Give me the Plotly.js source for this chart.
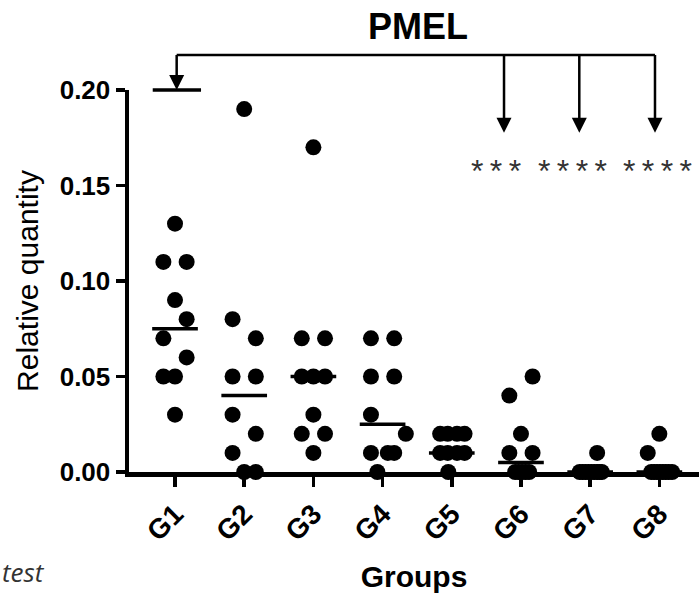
<!DOCTYPE html>
<html>
<head>
<meta charset="utf-8">
<script src="https://cdn.plot.ly/plotly-3.0.1.min.js"></script>
<style>html,body{margin:0;padding:0;background:#fff}</style>
</head>
<body>
<div id="chart" style="width:699px;height:593px"></div>
<script>
// Relative PMEL quantity per group, one value per sample
const groups = ['G1', 'G2', 'G3', 'G4', 'G5', 'G6', 'G7', 'G8'];
const g1 = [0.13, 0.11, 0.11, 0.09, 0.08, 0.07, 0.06, 0.05, 0.05, 0.03];
const g2 = [0.19, 0.08, 0.07, 0.05, 0.05, 0.03, 0.02, 0.01, 0, 0];
const g3 = [0.17, 0.07, 0.07, 0.05, 0.05, 0.05, 0.03, 0.02, 0.02, 0.01];
const g4 = [0.07, 0.07, 0.05, 0.05, 0.03, 0.02, 0.01, 0.01, 0.01, 0];
const g5 = [0.02, 0.02, 0.02, 0.02, 0.01, 0.01, 0.01, 0.01, 0];
const g6 = [0.05, 0.04, 0.02, 0.01, 0.01, 0, 0, 0, 0, 0];
const g7 = [0.01, 0, 0, 0, 0, 0, 0, 0, 0, 0];
const g8 = [0.02, 0.01, 0, 0, 0, 0, 0, 0, 0, 0];
const groupValues = [g1, g2, g3, g4, g5, g6, g7, g8];

// Comparisons against G1 and their significance marks
const comparedGroups = ['G6', 'G7', 'G8'];
const significance = ['***', '****', '****'];

// ---- layout / styling (not data) ----
const FONT = 'Liberation Sans, Arial, Helvetica, sans-serif';
const STEP = 0.168;            // horizontal spread step for overlapping dots (category units)
const HALF_MEDIAN = 0.33;      // half width of the median bar
// dot lanes, in spread steps, one per sample
const lanes = [
  [0, -1, 1, 0, 1, -1, 1, -1, 0, 0],
  [0, -1, 1, -1, 1, -1, 1, -1, 0, 1],
  [0, -1, 1, -1, 0, 1, 0, -1, 1, 0],
  [-1, 1, -1, 1, -1, 2, -1, 0.45, 1, -0.45],
  [-1, -0.35, 0.45, 1.1, -1, -0.35, 0.45, 1.1, -0.3],
  [1, -1, 0, -1, 1, -0.5, -0.2, 0.1, 0.4, 0.7],
  [0.6, -0.9, -0.65, -0.4, -0.15, 0.1, 0.35, 0.6, 0.8, 1.0],
  [0, -1, -0.7, -0.45, -0.2, 0.05, 0.3, 0.55, 0.8, 1.1]
];
const arrowShift = [-0.245, -0.157, -0.063];   // arrow offsets from the compared group
const starShift = [-0.36, -0.26, -0.03];       // star label offsets from the compared group
const MARGIN = {l: 129, r: 0, t: 90, b: 121};
const PLOT_H = 593 - MARGIN.t - MARGIN.b;
const BRACKET_LIFT = 35;       // px above the top of the y axis
const ARROW_TIP = 0.1776;      // y value where the comparison arrows end

function median(a) {
  const s = a.slice().sort((p, q) => p - q);
  const m = Math.floor(s.length / 2);
  return s.length % 2 ? s[m] : (s[m - 1] + s[m]) / 2;
}

// dots
const dotX = [], dotY = [];
groupValues.forEach((vals, gi) => {
  vals.forEach((v, k) => {
    dotX.push(gi + lanes[gi][k] * STEP);
    dotY.push(v);
  });
});

// median bars
const medX = [], medY = [];
groupValues.forEach((vals, gi) => {
  const m = median(vals);
  medX.push(gi - HALF_MEDIAN, gi + HALF_MEDIAN, null);
  medY.push(m, m, null);
});

const traces = [
  {
    type: 'scatter', mode: 'markers', x: dotX, y: dotY,
    marker: {color: '#000', size: 16, line: {width: 0}},
    cliponaxis: false, hoverinfo: 'y', showlegend: false
  },
  {
    type: 'scatter', mode: 'lines', x: medX, y: medY,
    line: {color: '#000', width: 3.5}, cliponaxis: false,
    hoverinfo: 'skip', showlegend: false
  }
];

const refIdx = 0;   // G1
const annotations = [];

// bracket across the top
const lastArrowX = groups.indexOf(comparedGroups[comparedGroups.length - 1]) + arrowShift[arrowShift.length - 1];
annotations.push({
  xref: 'x', x: lastArrowX, yref: 'paper', y: 1 + BRACKET_LIFT / PLOT_H,
  axref: 'x', ax: refIdx + 0.024, ayref: 'pixel', ay: 0,
  text: '', showarrow: true, arrowhead: 0, arrowwidth: 2.5, arrowcolor: '#000',
  standoff: 0, startstandoff: 0, borderpad: 0, borderwidth: 0
});
// arrow down to G1 bar
annotations.push({
  xref: 'x', x: refIdx + 0.024, yref: 'y', y: 0.2,
  ax: 0, ay: -BRACKET_LIFT,
  text: '', showarrow: true, arrowhead: 2, arrowsize: 1.2, arrowwidth: 2.5, arrowcolor: '#000',
  standoff: 0, borderpad: 0, borderwidth: 0
});
// bar under the G1 arrow
annotations.push({
  xref: 'x', x: refIdx + 0.376, yref: 'y', y: 0.2,
  axref: 'x', ax: refIdx - 0.322, ayref: 'pixel', ay: 0,
  text: '', showarrow: true, arrowhead: 0, arrowwidth: 3.5, arrowcolor: '#000',
  standoff: 0, borderpad: 0, borderwidth: 0
});
// arrows and stars for each comparison
comparedGroups.forEach((g, i) => {
  const gi = groups.indexOf(g);
  const tipPx = MARGIN.t + (0.2 - ARROW_TIP) / 0.2 * PLOT_H;
  annotations.push({
    xref: 'x', x: gi + arrowShift[i], yref: 'y', y: ARROW_TIP,
    ax: 0, ay: -(tipPx - (MARGIN.t - BRACKET_LIFT)),
    text: '', showarrow: true, arrowhead: 2, arrowsize: 1.2, arrowwidth: 2.5, arrowcolor: '#000',
    standoff: 0, borderpad: 0, borderwidth: 0
  });
  annotations.push({
    xref: 'x', x: gi + starShift[i], yref: 'y', y: 0.1575,
    xanchor: 'center', yanchor: 'middle', showarrow: false,
    text: significance[i].split('').join('\u2009'),
    font: {family: FONT, size: 32, color: '#333'}
  });
});
// caption fragment at the lower left
annotations.push({
  xref: 'paper', x: -MARGIN.l / (699 - MARGIN.l - MARGIN.r), xanchor: 'left',
  yref: 'paper', y: -0.2607, yanchor: 'middle', showarrow: false,
  text: 'test', font: {family: 'Open Sans, Lato, sans-serif', size: 26, style: 'italic', color: '#333'}
});

const layout = {
  width: 699, height: 593,
  margin: MARGIN,
  paper_bgcolor: '#fff', plot_bgcolor: '#fff',
  showlegend: false,
  title: {
    text: 'PMEL',
    font: {family: FONT, size: 36, weight: 'bold', color: '#000'},
    xref: 'container', x: 418 / 699, xanchor: 'center',
    yref: 'container', y: 1 - 26.5 / 593, yanchor: 'middle'
  },
  xaxis: {
    range: [-0.665, 7.573], tickmode: 'array',
    tickvals: groups.map((g, i) => i), ticktext: groups,
    tickangle: -45,
    tickfont: {family: FONT, size: 28, weight: 'bold', color: '#000'},
    ticks: 'outside', ticklen: 10, tickwidth: 3.5, tickcolor: '#000',
    showline: true, linewidth: 4.5, linecolor: '#000',
    showgrid: false, zeroline: false, fixedrange: true,
    title: {text: 'Groups', font: {family: FONT, size: 30, weight: 'bold', color: '#000'}, standoff: 26}
  },
  yaxis: {
    range: [0, 0.2], tickmode: 'array',
    tickvals: [0, 0.05, 0.1, 0.15, 0.2],
    ticktext: ['0.00', '0.05', '0.10', '0.15', '0.20'],
    tickfont: {family: FONT, size: 26, weight: 'bold', color: '#000'},
    ticks: 'outside', ticklen: 9, tickwidth: 3.5, tickcolor: '#000',
    showline: true, linewidth: 4.5, linecolor: '#000',
    showgrid: false, zeroline: false, fixedrange: true,
    title: {text: 'Relative quantity', font: {family: FONT, size: 30, color: '#000'}, standoff: 13}
  },
  annotations: annotations
};

Plotly.newPlot('chart', traces, layout, {displayModeBar: false, staticPlot: true});
</script>
</body>
</html>
